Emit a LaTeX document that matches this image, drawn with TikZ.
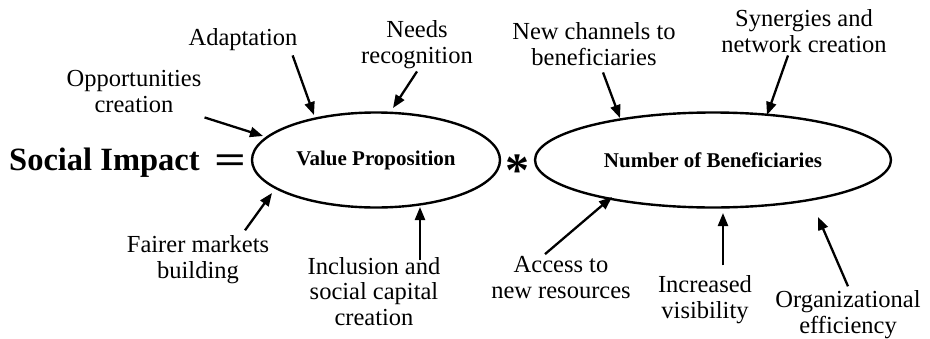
\documentclass[tikz,border=0pt]{standalone}
\usepackage{fontspec}
\setmainfont{Liberation Serif}
\usetikzlibrary{shapes.geometric,arrows.meta,calc}
\begin{document}
\begin{tikzpicture}[x=1pt,y=-1pt,
  lab/.style={align=center,inner sep=0pt,font=\fontsize{24.5}{25.5}\selectfont,anchor=base},
  oval/.style={ellipse,draw,line width=2.4pt,inner sep=0pt,font=\bfseries\fontsize{21}{22}\selectfont},
  arr/.style={line width=2.3pt,-{Triangle[length=13pt,width=10pt]}}]
\useasboundingbox (0,0) rectangle (930,338);
% main formula
\node[anchor=base west,inner sep=0pt,font=\bfseries\fontsize{32.5}{34}\selectfont] (si) at (9,170) {Social Impact};
\node[inner sep=0pt,font=\bfseries\fontsize{40}{44}\selectfont] (eq) at (230,164) {\scalebox{1.4}[1]{=}};
\node[oval,minimum width=248pt,minimum height=95pt] (vp) at (376,160) {Value Proposition};
\node[inner sep=0pt,font=\bfseries\fontsize{48}{50}\selectfont] (star) at (517,171) {*};
\node[oval,minimum width=356pt,minimum height=95pt] (nb) at (713,160) {Number of Beneficiaries};
% labels (anchor at baseline of the last line)
\node[lab] (op) at (134,112) {Opportunities\\creation};
\node[lab] (ad) at (243,45) {Adaptation};
\node[lab] (ne) at (417,63) {Needs\\recognition};
\node[lab] (nc) at (594,65) {New channels to\\beneficiaries};
\node[lab] (sy) at (804,52) {Synergies and\\network creation};
\node[lab] (fa) at (198,278) {Fairer markets\\building};
\node[lab] (in) at (374,325) {Inclusion and\\social capital\\creation};
\node[lab] (ac) at (561,298) {Access to\\new resources};
\node[lab] (iv) at (705,318) {Increased\\visibility};
\node[lab] (or) at (848,333) {Organizational\\efficiency};
% arrow tips
\coordinate (opT) at (263,136);
\coordinate (adT) at (314,115);
\coordinate (neT) at (393,108);
\coordinate (ncT) at (620,118);
\coordinate (syT) at (767,115);
\coordinate (faT) at (272,193);
\coordinate (inT) at (420,207);
\coordinate (acT) at (612,197);
\coordinate (ivT) at (723,213);
\coordinate (orT) at (818,217);
% arrows
\draw[arr] ([shift={(3,5)}]op.south east) -- (opT);
\draw[arr] ([shift={(-5,5)}]ad.south east) -- (adT);
\draw[arr] ([shift={(0,3)}]ne.south) -- (neT);
\draw[arr] ([shift={(9,7)}]nc.south) -- (ncT);
\draw[arr] ([shift={(-16,3)}]sy.south) -- (syT);
\draw[arr] ([shift={(47,-5)}]fa.north) -- (faT);
\draw[arr] ([shift={(46,3)}]in.north) -- (inT);
\draw[arr] ([shift={(-16,-2)}]ac.north) -- (acT);
\draw[arr] ([shift={(18,-10)}]iv.north) -- (ivT);
\draw[arr] ([shift={(0,-4)}]or.north) -- (orT);
\end{tikzpicture}
\end{document}
